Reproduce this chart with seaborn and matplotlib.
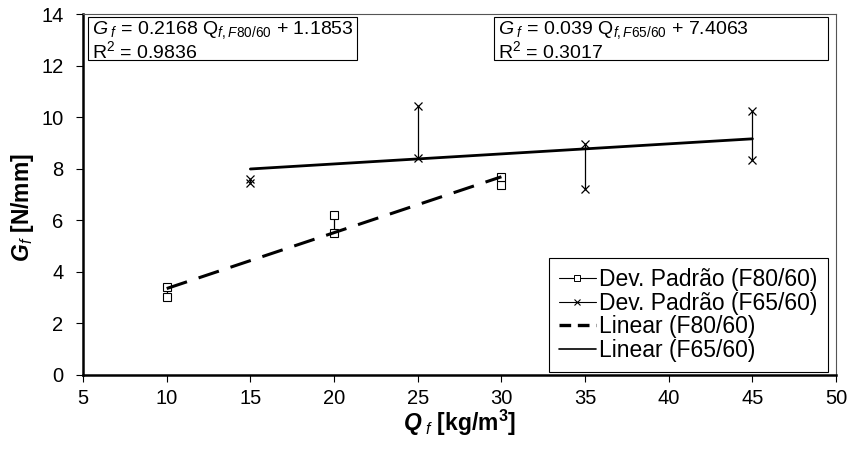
import numpy as np
import pandas as pd
import matplotlib
matplotlib.use("Agg")
import matplotlib.pyplot as plt
from matplotlib.lines import Line2D
from matplotlib.patches import Rectangle
import seaborn as sns

# data
q_f80 = [10, 10, 20, 20, 30, 30]
g_f80 = [3.40, 3.02, 6.20, 5.52, 7.69, 7.36]
q_f65 = [15, 15, 25, 25, 35, 35, 45, 45]
g_f65 = [7.60, 7.44, 10.43, 8.40, 8.95, 7.21, 10.23, 8.33]

# linear fits as written on the chart
a80, b80, r2_80 = 0.2168, 1.1853, 0.9836
a65, b65, r2_65 = 0.039, 7.4063, 0.3017

xticks = [5, 10, 15, 20, 25, 30, 35, 40, 45, 50]
yticks = [0, 2, 4, 6, 8, 10, 12, 14]

sns.set_style("ticks")
plt.rcParams['font.family'] = ['Liberation Sans', 'DejaVu Sans']
plt.rcParams['mathtext.fontset'] = 'custom'
plt.rcParams['mathtext.rm'] = 'Liberation Sans'
plt.rcParams['mathtext.it'] = 'Liberation Sans:italic'
plt.rcParams['mathtext.bf'] = 'Liberation Sans:bold'
plt.rcParams['mathtext.bfit'] = 'Liberation Sans:bold:italic'
for k in ['text.color', 'axes.labelcolor', 'xtick.color', 'ytick.color']:
    plt.rcParams[k] = 'black'

df80 = pd.DataFrame({"Q": q_f80, "G": g_f80})
df65 = pd.DataFrame({"Q": q_f65, "G": g_f65})

x80 = np.array([min(q_f80), max(q_f80)])
x65 = np.array([min(q_f65), max(q_f65)])
fit80 = pd.DataFrame({"Q": x80, "G": a80 * x80 + b80})
fit65 = pd.DataFrame({"Q": x65, "G": a65 * x65 + b65})

fig = plt.figure(figsize=(8.49, 4.5), dpi=100)
ax = fig.add_axes([0.0978, 0.1667, 0.887, 0.802])

# standard deviation bars: connect the two points of each dosage
sns.lineplot(data=df80, x="Q", y="G", units="Q", estimator=None, color="black",
             lw=0.9, marker="s", markersize=5.5, markerfacecolor="white",
             markeredgecolor="black", markeredgewidth=0.8, ax=ax, legend=False)
sns.lineplot(data=df65, x="Q", y="G", units="Q", estimator=None, color="black",
             lw=0.9, marker="x", markersize=6, markeredgecolor="black",
             markeredgewidth=0.9, ax=ax, legend=False)

sns.lineplot(data=fit80, x="Q", y="G", color="black", lw=2.2, ax=ax, legend=False)
ax.lines[-1].set_dashes([7, 4])
sns.lineplot(data=fit65, x="Q", y="G", color="black", lw=2.0, ax=ax, legend=False)

ax.set_xlim(5, 50)
ax.set_ylim(0, 14)
ax.set_xticks(xticks)
ax.set_yticks(yticks)
ax.tick_params(labelsize=14.5, length=5, width=0.8, color="black", labelcolor="black")
ax.tick_params(axis="y", pad=9)
ax.tick_params(axis="x", pad=5)
for s in ["left", "bottom"]:
    ax.spines[s].set_color("black")
    ax.spines[s].set_linewidth(1.8)
for s in ["top", "right"]:
    ax.spines[s].set_visible(True)
    ax.spines[s].set_color("#555555")
    ax.spines[s].set_linewidth(0.8)

ax.set_xlabel(r"$\mathbfit{Q}_{\ \mathit{f}}$ [kg/m$^\mathbf{3}$]", fontsize=16.5,
              fontweight="bold", labelpad=0)
ax.set_ylabel(r"$\mathbfit{G}_{\mathit{f}}$ [N/mm]", fontsize=16.5,
              fontweight="bold")
ax.yaxis.set_label_coords(-0.062, 0.465)

# equation boxes
for x0, x1, txt1, txt2 in [
    (0.0066, 0.364,
     r"$G_{\ f}$ = %.4f Q$_{\mathit{f,F80/60}}$ + %.4f" % (a80, b80),
     r"R$^2$ = %.4f" % r2_80),
    (0.546, 0.989,
     r"$G_{\ f}$ = %.3f Q$_{\mathit{f,F65/60}}$ + %.4f" % (a65, b65),
     r"R$^2$ = %.4f" % r2_65),
]:
    ax.add_patch(Rectangle((x0, 0.873), x1 - x0, 0.119, transform=ax.transAxes,
                           fill=True, facecolor="white", edgecolor="black",
                           lw=0.8, zorder=5))
    ax.text(x0 + 0.005, 0.955, txt1, transform=ax.transAxes, fontsize=14,
            va="center", ha="left", zorder=6)
    ax.text(x0 + 0.005, 0.898, txt2, transform=ax.transAxes, fontsize=14,
            va="center", ha="left", zorder=6)

handles = [
    Line2D([], [], color="black", lw=0.8, marker="s", markersize=4,
           markerfacecolor="white", markeredgewidth=0.7),
    Line2D([], [], color="black", lw=0.8, marker="x", markersize=4,
           markeredgewidth=0.8),
    Line2D([], [], color="black", lw=2.4, dashes=[3.5, 2]),
    Line2D([], [], color="black", lw=1.2),
]
labels = ["Dev. Padrão (F80/60)", "Dev. Padrão (F65/60)",
          "Linear (F80/60)", "Linear (F65/60)"]
leg = ax.legend(handles, labels, loc="lower right", bbox_to_anchor=(0.989, 0.008),
                fontsize=16.5, frameon=True, fancybox=False, framealpha=1,
                edgecolor="black", handlelength=1.6, handletextpad=0.15,
                borderpad=0.45, labelspacing=0.02, borderaxespad=0)
leg.get_frame().set_linewidth(0.8)

fig.savefig("out.png", dpi=100)
